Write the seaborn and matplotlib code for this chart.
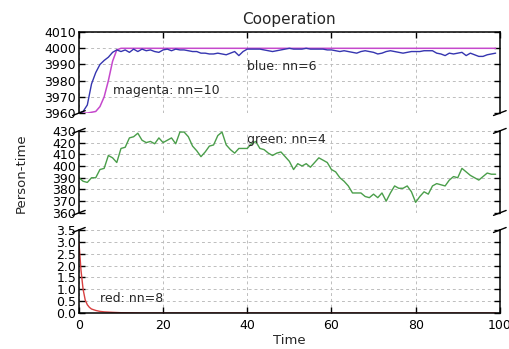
import numpy as np
import pandas as pd
import matplotlib
matplotlib.use("Agg")
import matplotlib.pyplot as plt
import seaborn as sns

# ---------------- data ----------------
title = "Cooperation"
x_label = "Time"
y_label = "Person-time"

blue_time = list(range(0, 100))
blue_vals = [3960, 3961, 3965, 3978, 3985, 3990, 3992.5, 3994.5, 3997.5, 3999,
             3998, 3999, 3997.5, 3999.5, 3998, 3999.5, 3998.5, 3999, 3998, 3997.5,
             3999, 3999.5, 3998.5, 3999.5, 3999, 3999, 3998.5, 3998, 3998, 3997,
             3997, 3996.5, 3996.5, 3997, 3996.5, 3996, 3997, 3998, 3995.5, 3998,
             3999.5, 3999.5, 3999.5, 3999.5, 3999, 3998.5, 3998, 3998.5, 3999, 3999.5,
             4000, 3999.5, 3999.5, 3999.5, 4000, 3999.5, 3999.5, 3999.5, 3999.5, 3999,
             3999, 3998.5, 3998, 3998.5, 3998, 3997.5, 3997, 3998, 3998.5, 3998,
             3997.5, 3996.5, 3997, 3998, 3998.5, 3998, 3997.5, 3997, 3997.5, 3998,
             3998, 3998, 3998.5, 3998.5, 3998.5, 3997, 3996.5, 3995.5, 3997, 3996.5,
             3997, 3997.5, 3995.5, 3997, 3996, 3995, 3995, 3996, 3996.5, 3997]

magenta_time = [0, 1, 2, 3, 4, 5, 6, 7, 8, 9, 10, 99]
magenta_vals = [3960, 3960, 3960, 3960.5, 3961, 3964, 3970, 3980, 3992, 3999, 4000, 4000]

green_time = list(range(0, 100))
green_vals = [390, 387, 386, 390, 390, 397, 398, 409, 407, 403,
              415, 416, 424, 425, 428, 422, 420, 421, 419, 424,
              420, 422, 424, 419, 429, 429, 425, 417, 413, 408,
              412, 417, 418, 426, 429, 418, 414, 411, 415, 415,
              415, 419, 421, 415, 414, 411, 409, 411, 412, 408,
              404, 397, 402, 400, 402, 399, 403, 407, 405, 403,
              397, 395, 390, 387, 383, 377, 377, 377, 374, 373,
              376, 373, 377, 370, 377, 383, 381, 381, 383, 378,
              369, 374, 378, 376, 383, 385, 384, 383, 388, 391,
              390, 398, 395, 392, 390, 388, 391, 394, 393, 393]

red_time = [0, 0.5, 1, 1.5, 2, 2.5, 3, 4, 5, 6, 8, 10, 12, 15, 99]
red_vals = [3.0, 1.8, 1.0, 0.55, 0.35, 0.24, 0.17, 0.11, 0.07, 0.05, 0.03, 0.015, 0.01, 0.0, 0.0]

labels = ["magenta: nn=10", "blue: nn=6", "green: nn=4", "red: nn=8"]

x_ticks = [0, 20, 40, 60, 80, 100]
top_ticks = [3960, 3970, 3980, 3990, 4000, 4010]
mid_ticks = [360, 370, 380, 390, 400, 410, 420, 430]
bot_ticks = [0.0, 0.5, 1.0, 1.5, 2.0, 2.5, 3.0, 3.5]

# ---------------- figure ----------------
sns.set_style("white")
plt.rcParams['font.family'] = ['DejaVu Sans']

fig = plt.figure(figsize=(5.09, 3.49), dpi=100)
L, W = 0.155, 0.827
ax_top = fig.add_axes([L, 0.676, W, 0.232])
ax_mid = fig.add_axes([L, 0.390, W, 0.235])
ax_bot = fig.add_axes([L, 0.103, W, 0.238])
axes = [ax_top, ax_mid, ax_bot]

c_blue = "#3535b0"
c_mag = "#c548cc"
c_green = "#4a9e4a"
c_red = "#d84040"

df_b = pd.DataFrame({"t": blue_time, "v": blue_vals})
df_m = pd.DataFrame({"t": magenta_time, "v": magenta_vals})
df_g = pd.DataFrame({"t": green_time, "v": green_vals})
df_r = pd.DataFrame({"t": red_time, "v": red_vals})

sns.lineplot(data=df_m, x="t", y="v", ax=ax_top, color=c_mag, lw=1.1, estimator=None)
sns.lineplot(data=df_b, x="t", y="v", ax=ax_top, color=c_blue, lw=1.0, estimator=None)
sns.lineplot(data=df_g, x="t", y="v", ax=ax_mid, color=c_green, lw=1.0, estimator=None)
sns.lineplot(data=df_r, x="t", y="v", ax=ax_bot, color=c_red, lw=1.0, estimator=None)

ax_top.set_ylim(3960, 4010)
ax_mid.set_ylim(360, 430)
ax_bot.set_ylim(0, 3.5)
ax_top.set_yticks(top_ticks)
ax_mid.set_yticks(mid_ticks)
ax_bot.set_yticks(bot_ticks)
ax_bot.set_yticklabels([f"{v:.1f}" for v in bot_ticks])

for ax in axes:
    ax.set_xlim(0, 100)
    ax.set_xticks(x_ticks)
    ax.set_xlabel("")
    ax.set_ylabel("")
    ax.grid(True, color="#bdbdbd", linestyle=(0, (3, 3)), linewidth=0.7)
    for s in ax.spines.values():
        s.set_color("black")
        s.set_linewidth(1.1)
    ax.tick_params(axis="y", which="both", direction="in", length=4, width=1,
                   left=True, right=True, labelsize=9, pad=2, colors="black")
    ax.tick_params(axis="x", direction="in", length=4, width=1, labelsize=9, colors="black")

ax_top.spines["bottom"].set_visible(False)
ax_top.tick_params(axis="x", bottom=False, top=True, labelbottom=False)
ax_mid.spines["top"].set_visible(False)
ax_mid.spines["bottom"].set_visible(False)
ax_mid.tick_params(axis="x", bottom=False, top=False, labelbottom=False)
ax_bot.spines["top"].set_visible(False)
ax_bot.tick_params(axis="x", bottom=True, top=False, labelbottom=True, pad=4)

# break marks
d = 0.015
for ax, has_top, has_bot in [(ax_top, False, True), (ax_mid, True, True), (ax_bot, True, False)]:
    kw = dict(transform=ax.transAxes, color="k", clip_on=False, lw=1.0)
    if has_bot:
        ax.plot((-d, +d), (-d * 2, +d * 2), **kw)
        ax.plot((1 - d, 1 + d), (-d * 2, +d * 2), **kw)
    if has_top:
        ax.plot((-d, +d), (1 - d * 2, 1 + d * 2), **kw)
        ax.plot((1 - d, 1 + d), (1 - d * 2, 1 + d * 2), **kw)

# annotations
ax_top.text(8, 3974, labels[0], fontsize=9, va="center", ha="left")
ax_top.text(40, 3989, labels[1], fontsize=9, va="center", ha="left")
ax_mid.text(40, 423, labels[2], fontsize=9, va="center", ha="left")
ax_bot.text(5, 0.6, labels[3], fontsize=9, va="center", ha="left")

ax_top.set_title(title, fontsize=11, pad=6)
ax_bot.set_xlabel(x_label, fontsize=9.5, labelpad=2)
fig.text(0.042, 0.505, y_label, rotation=90, fontsize=9.5, va="center", ha="center")

fig.savefig("out.png", dpi=100)
